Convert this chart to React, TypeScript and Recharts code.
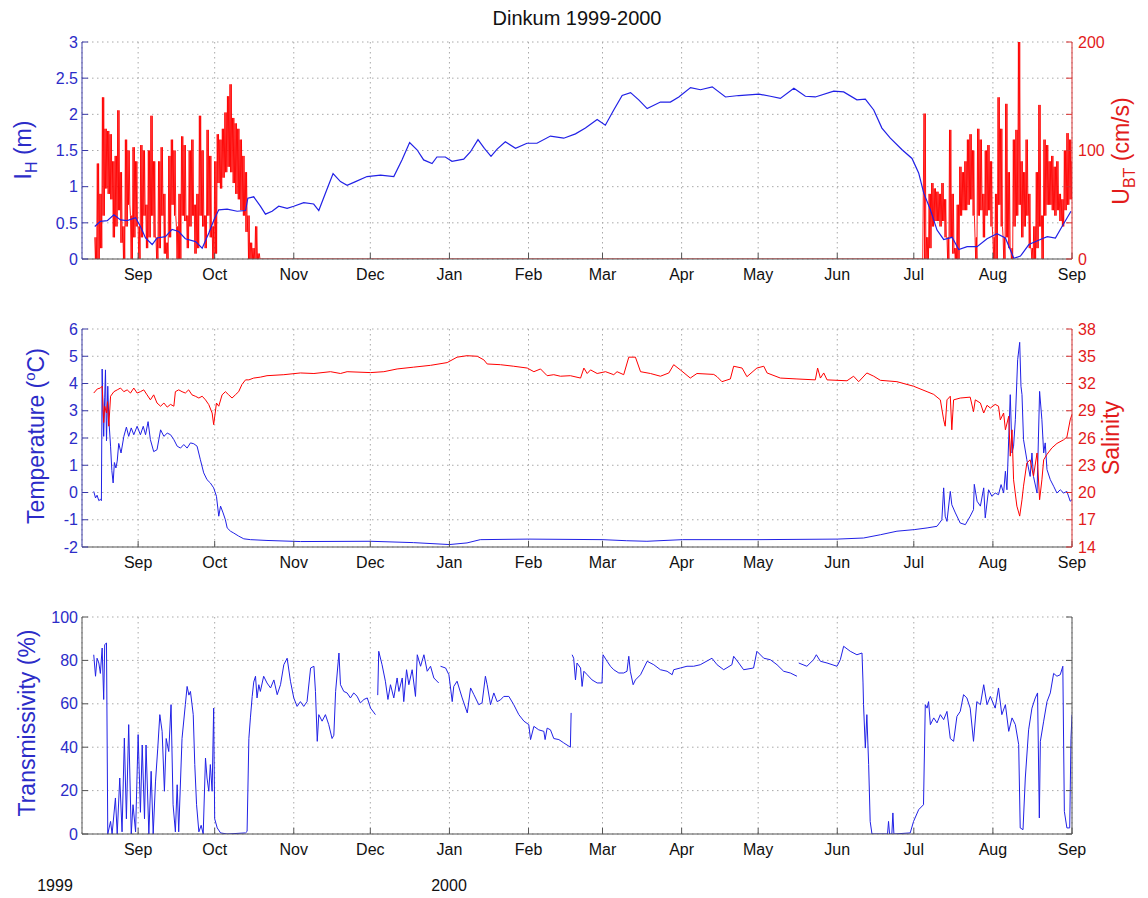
import React from 'react';
import { LineChart, Line, XAxis, YAxis, CartesianGrid } from 'recharts';

// x values are days since 1 Sep 1999
const monthTicks = [0, 30, 61, 91, 122, 153, 182, 213, 243, 274, 304, 335, 366];
const monthLabels = ['Sep', 'Oct', 'Nov', 'Dec', 'Jan', 'Feb', 'Mar', 'Apr', 'May', 'Jun', 'Jul', 'Aug', 'Sep'];
const dayDomain: [number, number] = [-22, 366];

const ihTicks = [0, 0.5, 1, 1.5, 2, 2.5, 3];
const ubtTicks = [0, 100 / 3, 200 / 3, 100, 400 / 3, 500 / 3, 200];
const ubtLabelled = [0, 100, 200];
const tempTicks = [-2, -1, 0, 1, 2, 3, 4, 5, 6];
const salTicks = [14, 17, 20, 23, 26, 29, 32, 35, 38];
const transTicks = [0, 20, 40, 60, 80, 100];

// ice draft I_H (m)
const iceDraft: [number, number][] = [
  [-17, 0.45], [-14.8, 0.52], [-12.1, 0.53], [-9.5, 0.61], [-6.9, 0.54], [-4.3, 0.53], [-1, 0.57], [0.9, 0.45],
  [2.9, 0.29], [5.5, 0.2], [7.4, 0.29], [10.7, 0.31], [13.3, 0.41], [15.9, 0.38], [18.5, 0.28], [22.5, 0.24],
  [25.1, 0.15], [27.7, 0.36], [29.7, 0.54], [31.6, 0.68], [34.9, 0.69], [38.8, 0.66], [42.1, 0.67], [43, 0.84],
  [45.3, 0.86], [47.9, 0.73], [49.9, 0.62], [52.5, 0.66], [55.1, 0.73], [58.4, 0.7], [61, 0.73], [64.9, 0.78],
  [68.8, 0.76], [70.8, 0.67], [73.4, 0.91], [76.4, 1.18], [79.3, 1.07], [81.9, 1.02], [85.2, 1.07], [89.7, 1.14],
  [95, 1.16], [100.2, 1.14], [103.4, 1.37], [106.4, 1.61], [109.3, 1.51], [111.9, 1.37], [115.2, 1.32], [117.1, 1.41],
  [120.4, 1.41], [123, 1.35], [127.6, 1.38], [130.2, 1.48], [133.2, 1.65], [135.7, 1.53], [138.3, 1.42], [140.7, 1.52],
  [143.9, 1.62], [147.9, 1.53], [152.4, 1.6], [156.3, 1.6], [161.6, 1.7], [166.8, 1.67], [171.4, 1.73], [175.3, 1.81],
  [179.9, 1.93], [183.1, 1.85], [186.4, 2.06], [189.7, 2.26], [193, 2.3], [196.2, 2.2], [199.5, 2.08], [204.7, 2.17],
  [208.6, 2.17], [211.9, 2.24], [216.5, 2.37], [220.4, 2.34], [225, 2.38], [230.2, 2.24], [235.4, 2.26], [243.3, 2.28],
  [247.8, 2.25], [251.7, 2.22], [257, 2.36], [261.5, 2.25], [265.4, 2.24], [272.6, 2.32], [276.5, 2.31], [281.7, 2.2],
  [285, 2.21], [288.3, 2.06], [291.5, 1.81], [294.8, 1.67], [299.4, 1.51], [303.3, 1.39], [305.9, 1.19], [307.9, 0.91],
  [310.5, 0.68], [313.1, 0.4], [315.7, 0.27], [319, 0.3], [321.6, 0.13], [324.9, 0.17], [328.8, 0.17], [332.7, 0.28],
  [336.6, 0.35], [339.9, 0.29], [343.2, 0.01], [345.8, 0.04], [349.1, 0.2], [353.6, 0.27], [356.3, 0.31], [359.5, 0.29],
  [362.1, 0.45], [365.6, 0.66],
];

// U_BT (cm/s): daily high / low of the tidal oscillation, autumn 1999 (from day -17) and summer 2000 (from day 308)
const ubtStartAutumn = -17;
const ubtHighAutumn = [20, 88, 60, 149, 120, 118, 115, 90, 95, 137, 80, 30, 110, 100, 40, 103, 90, 30, 105, 100, 50, 100, 132, 90,
  20, 90, 103, 60, 15, 95, 110, 100, 30, 60, 113, 105, 40, 100, 110, 50, 60, 132, 100, 40, 119, 95, 30, 90, 115, 110, 120,
  135, 150, 161, 130, 125, 120, 110, 95, 80, 40, 15, 10, 30, 5];
const ubtLowAutumn = [0, 0, 10, 40, 65, 60, 55, 20, 30, 45, 15, 0, 30, 50, 0, 20, 30, 0, 20, 40, 10, 20, 40, 20,
  0, 10, 40, 5, 0, 20, 50, 40, 0, 0, 40, 35, 10, 30, 40, 5, 10, 40, 30, 10, 40, 20, 0, 5, 70, 65, 75,
  80, 85, 80, 70, 60, 55, 45, 40, 25, 0, 0, 0, 0, 0];
const ubtStartSummer = 308;
const ubtHighSummer = [134, 20, 60, 70, 65, 62, 60, 70, 55, 20, 119, 60, 10, 50, 85, 80, 90, 110, 115, 100, 20, 120, 110, 60,
  100, 105, 90, 20, 60, 149, 120, 20, 143, 80, 10, 110, 119, 200, 90, 80, 110, 60, 10, 30, 80, 142, 40, 110, 105, 90, 95,
  85, 90, 60, 55, 100, 116, 110, 90];
const ubtLowSummer = [0, 0, 10, 30, 35, 35, 30, 35, 20, 0, 20, 5, 0, 0, 40, 45, 45, 50, 55, 40, 0, 40, 45, 20,
  40, 45, 30, 0, 0, 50, 30, 0, 20, 10, 0, 30, 40, 50, 20, 30, 40, 10, 0, 0, 10, 30, 0, 40, 50, 50, 45,
  40, 45, 35, 30, 45, 50, 55, 55];

const temperature: [number, number][] = [
  [-17.4, 0.04], [-16.7, -0.2], [-16.1, -0.1], [-15.4, -0.3], [-14.8, -0.25], [-14.4, -0.3], [-14.1, 4.53], [-13.8, 3.0],
  [-13.5, 2.06], [-13.1, 3.5], [-12.8, 4.5], [-12.4, 1.9], [-11.9, 3.9], [-11.5, 2.7], [-10.8, 1.7], [-10.3, 0.8],
  [-9.8, 0.35], [-9.3, 1.1], [-8.7, 0.9], [-8.2, 1.15], [-7.6, 1.8], [-6.7, 1.45], [-5.6, 2.06], [-4.6, 2.4],
  [-3.7, 2.06], [-2.7, 2.37], [-1.7, 2.12], [-0.4, 2.43], [0.9, 2.12], [2, 2.43], [2.9, 2.12], [3.9, 2.6],
  [4.8, 1.94], [6.1, 1.5], [7.4, 1.57], [8.8, 2.3], [10.1, 2.06], [11.4, 2.18], [12.7, 2.12], [14, 1.94],
  [15.3, 1.7], [16.6, 1.63], [17.9, 1.76], [19.2, 1.63], [20.5, 1.82], [21.8, 1.79], [23.1, 1.7], [24.4, 1.2],
  [25.7, 0.72], [27, 0.47], [28.3, 0.35], [29.6, 0.17], [30.7, -0.14], [31.6, -0.87], [32.3, -0.5], [33.3, -0.75],
  [34.2, -1.0], [34.9, -1.3], [36.2, -1.42], [37.5, -1.49], [39.4, -1.6], [41.4, -1.7], [44, -1.73], [50.5, -1.76],
  [63.6, -1.8], [91, -1.79], [108, -1.84], [122, -1.91], [128.9, -1.85], [134.1, -1.73], [153, -1.71], [182, -1.73],
  [191.5, -1.77], [199.4, -1.79], [213.4, -1.73], [243.3, -1.73], [274, -1.71], [284.3, -1.67], [290.9, -1.55], [297.4, -1.42],
  [304.4, -1.36], [309.2, -1.3], [313.1, -1.24], [315, -1.0], [315.7, 0.17], [316.3, -0.87], [317, -1.06], [318.3, 0.04],
  [318.9, -0.45], [320.3, -0.75], [322.2, -1.12], [324.2, -1.18], [326.1, -0.87], [327.4, -0.63], [327.7, 0.3], [328.8, -0.32],
  [330.1, -0.5], [331.4, 0.17], [332, -0.93], [333.3, 0.1], [334.6, -0.14], [335.9, -0.02], [337.2, -0.08], [338.2, 0.29],
  [339.2, -0.02], [339.9, 0.78], [340.5, 0.1], [341.8, 3.59], [342.5, 1.45], [343.1, 1.7], [343.8, 2.67], [344.7, 4.87],
  [345.5, 5.51], [346, 3.9], [346.4, 3.59], [347, 1.94], [348.3, 1.2], [349.6, 0.59], [350.3, 1.45], [350.9, 0.59],
  [352.3, -0.02], [353.3, 3.71], [354.2, 2.67], [354.9, 1.45], [355.5, 1.82], [356.2, 0.84], [357.5, 0.47], [358.8, 0.23],
  [360.1, -0.02], [361.4, 0.1], [362.7, -0.02], [364, 0.04], [365.3, -0.32], [366, -0.26],
];

const salinity: [number, number][] = [
  [-17.4, 30.95], [-16, 31.4], [-14.8, 31.5], [-14.1, 31.7], [-13.5, 27.7], [-13.1, 29.5], [-12.4, 28.75], [-12, 30.0],
  [-11.5, 27.3], [-10.8, 30.6], [-9.5, 31.1], [-8.2, 31.3], [-6.9, 31.5], [-5.6, 31.1], [-4.3, 31.3], [-3, 30.95],
  [-1.7, 31.5], [-0.4, 30.95], [0.9, 31.1], [2.2, 31.3], [3.5, 30.75], [4.8, 30.2], [6.1, 30.75], [7.4, 29.85],
  [8.8, 29.5], [10.1, 29.85], [11.4, 29.4], [12.7, 29.7], [14, 29.5], [14.6, 31.1], [15.9, 31.3], [17.2, 31.1],
  [18.5, 30.95], [19.8, 31.3], [21.1, 30.75], [22.4, 30.6], [23.8, 30.4], [25.1, 30.6], [26.4, 30.2], [27.7, 29.67],
  [29, 28.75], [29.6, 27.47], [30.7, 29.85], [31.6, 29.5], [32.9, 30.75], [34.2, 31.1], [35.5, 30.75], [36.8, 30.4],
  [38.1, 30.75], [39.4, 31.1], [40.7, 31.9], [42.1, 32.4], [43.4, 32.4], [45.3, 32.6], [47.9, 32.7], [50.5, 32.86],
  [57.1, 32.97], [63.6, 33.16], [68.9, 33.1], [75.4, 33.3], [79.3, 33.1], [81.9, 33.3], [91.1, 33.2], [96.3, 33.3],
  [101.5, 33.6], [108, 33.8], [114.6, 34.0], [121.1, 34.3], [125, 34.9], [128.9, 35.06], [132.9, 35.0], [135.5, 34.6],
  [136.8, 34.15], [142, 34.07], [147.2, 33.9], [152.5, 33.7], [155.1, 33.3], [157.7, 33.6], [160.3, 32.86], [162.9, 32.97],
  [165.5, 32.8], [169.4, 32.86], [173.4, 32.6], [174.7, 33.7], [176, 33.1], [177.3, 33.5], [179.9, 33.1], [183.2, 33.3],
  [186.4, 32.97], [187.7, 33.3], [190.3, 32.97], [192.3, 34.9], [194.9, 34.9], [196.9, 33.3], [200.8, 33.1], [204.7, 32.8],
  [208, 33.16], [209.9, 34.07], [212.5, 33.5], [216.4, 32.6], [219, 33.1], [225.6, 33.0], [226.9, 32.75], [228.8, 32.2],
  [232.1, 32.5], [233.4, 33.9], [236.7, 33.7], [238.6, 32.75], [242.5, 33.7], [245.2, 33.9], [246.5, 33.16], [251.7, 32.6],
  [258.2, 32.5], [265.4, 32.4], [266.3, 33.7], [267.4, 32.6], [268.7, 33.16], [270, 32.4], [277.8, 32.3], [280.4, 32.8],
  [282.4, 32.2], [285.6, 33.16], [288.3, 32.8], [290.9, 32.35], [297.4, 32.2], [303.9, 31.7], [309.2, 31.1], [311.8, 30.8],
  [314.4, 30.2], [315.7, 28.0], [316.3, 27.3], [317, 30.2], [318.3, 30.6], [318.9, 26.9], [319.6, 30.2], [322.2, 30.4],
  [326.1, 30.5], [327.4, 28.9], [328.1, 30.2], [330.1, 29.85], [331.4, 28.75], [332.7, 29.6], [334, 29.3], [335.9, 29.7],
  [337.2, 29.5], [337.9, 28.0], [339.2, 28.75], [339.9, 26.9], [341.2, 28.4], [341.8, 24.0], [342.5, 26.9], [343.1, 21.4],
  [344.4, 18.5], [345.5, 17.4], [346.4, 19.2], [347, 20.7], [348.3, 23.25], [349.6, 23.6], [350.9, 21.8], [352.3, 24.35],
  [353.3, 19.2], [354.2, 21.4], [354.9, 23.6], [356.2, 24.2], [358.1, 24.9], [360.1, 25.4], [362.7, 25.8], [364, 26.1],
  [365.3, 28.0], [366, 28.6],
];

// null = gap in the record
const transmissivity: [number, number | null][] = [
  [-17.4, 82.6], [-16.7, 72.7], [-16.1, 81], [-15.4, 78.8], [-14.8, 74], [-14.1, 85.7], [-13.5, 62], [-13.1, 87.3],
  [-12.4, 88], [-11.9, 0], [-10.8, 5.8], [-10.2, 0], [-8.9, 16.6], [-8.2, 0], [-7.2, 25.8], [-6.3, 1],
  [-5.4, 44.2], [-4.6, 7], [-3.7, 50.4], [-2.7, 0], [-2, 13.5], [-1, 1], [0, 45.8], [0.9, 10],
  [1.6, 41], [2.5, 7], [3.1, 41], [4.2, 0], [5.1, 28.9], [5.9, 0], [6.8, 24], [7.7, 39.6],
  [8.5, 55], [9.4, 47.3], [10.3, 19.7], [11, 44], [12, 38], [12.9, 59.6], [13.7, 13.5], [14.6, 1],
  [15.3, 22.7], [15.9, 1], [17.2, 44], [18.5, 59.6], [19.2, 68], [19.9, 64], [20.5, 65.7], [21.6, 55],
  [22.2, 32], [22.9, 13.5], [23.8, 1], [24.7, 4], [25.5, 0], [26.4, 35], [27, 25.8], [27.7, 19.7],
  [28.3, 32], [29, 19.7], [29.6, 58], [30, 7], [31, 2.8], [32.3, 0.5], [34.9, 0], [42.1, 0.5],
  [42.7, 1.2], [43.4, 44], [44, 53.5], [44.7, 63.4], [45.3, 70], [46, 72.7], [46.6, 62.7], [47.3, 68.8],
  [47.9, 65.7], [49.2, 72.7], [50.5, 69.6], [51.9, 67.3], [53.2, 71], [54.5, 64.2], [55.8, 68.8], [57.1, 78],
  [58.4, 81], [59.7, 70.4], [61, 62.7], [62.3, 58.8], [63.6, 61], [64.9, 58.8], [66.2, 61], [67.6, 76.5],
  [68.9, 77.3], [69.5, 65.7], [70.2, 42.7], [70.8, 55], [72.1, 52], [73.4, 55], [74.7, 50.4], [76, 44],
  [76.7, 45.5], [77.4, 65.7], [78.7, 83.4], [79.3, 68.8], [80.6, 65.7], [81.9, 65], [83.2, 62.7], [84.5, 65],
  [85.8, 63.5], [87.1, 60.4], [88.5, 62], [89.8, 62.7], [91.1, 58], [93, 55], [93.5, null], [93.9, 64],
  [94.3, 84.2], [95.6, 78], [96.9, 70.4], [97.9, 62], [98.9, 68.8], [100.2, 62.7], [101.5, 71.9], [102.2, 65.7],
  [103.5, 71.9], [104.1, 61], [105.2, 75.7], [106.1, 68.8], [107.4, 75.7], [108.7, 63.4], [109.4, 82.6], [110.7, 77.3],
  [112, 82.6], [113.3, 75], [114.6, 77.3], [115.9, 71.9], [117.8, 69.6], [118.1, null], [118.5, 77.3], [120.5, 76.5],
  [121.8, 73.4], [123.1, 61], [123.7, 68], [125, 70.4], [127, 62.7], [129, 55.8], [130.3, 67.3], [131.6, 64.2],
  [133.5, 59.6], [134.8, 60.4], [136.1, 72.7], [136.8, 68.8], [138.1, 59.6], [139.4, 65], [140.7, 61], [142, 61.8],
  [143.3, 63.4], [145.3, 63.4], [147.2, 59.6], [149.2, 55], [151.2, 52], [153.1, 50.4], [153.8, 43.5], [155.1, 49.6],
  [157, 48], [159, 47.3], [159.5, 43.5], [160.3, 48.8], [161.6, 48], [162.9, 44], [164.9, 43.5], [166.8, 42],
  [169.4, 40], [169.7, 55.8], [169.9, null], [170.1, 82.6], [170.7, 81], [171.4, 71], [172, 78.8], [173.4, 76.5],
  [174, 68], [174.7, 75], [176, 73.4], [177.9, 71], [179.9, 69.6], [181.8, 69.6], [182.2, 82.6], [183.8, 79.6],
  [185.1, 77.3], [186.4, 75.7], [188.4, 74.2], [190.3, 74.2], [191.6, 75], [192.3, 81.9], [192.9, 75], [194, 68.8],
  [194.9, 71], [196.9, 73.4], [199.5, 79.6], [202.1, 78], [204.7, 75.7], [207.3, 75], [209.3, 73.4], [209.9, 75.7],
  [212.5, 76.5], [215.1, 77.3], [217.7, 77.3], [220.3, 78], [224.9, 81], [226.9, 78], [229.5, 75.7], [232.7, 78],
  [233.4, 81.9], [235.4, 78.8], [237.3, 75.7], [241.2, 76.5], [242.5, 84.2], [245.2, 81], [247.8, 80.3], [250.4, 78],
  [253, 75], [255.6, 74.2], [258.2, 72.7], [258.5, null], [258.9, 78.8], [262.1, 77.3], [264.7, 80.3], [265.8, 82.6],
  [267.4, 79.6], [270, 78.8], [273.9, 77.3], [275.2, 80.3], [276.5, 86.5], [279.1, 84.2], [281.7, 82.6], [283.7, 83.4],
  [284.1, 69.6], [284.3, 59.6], [285, 39.6], [285.6, 55], [286.3, 32], [286.9, 5.8], [287.6, 0], [293.7, 0],
  [294.1, 5.8], [294.5, 0], [295.4, 0], [295.8, 9.7], [296.2, 0], [302.6, 0.5], [303.9, 5.8], [305.9, 11.2],
  [307.8, 13.5], [308.5, 59.6], [309.2, 58], [309.8, 61], [310.5, 50.4], [311.8, 53.5], [313.1, 51.2], [314.4, 55],
  [315.7, 52.7], [317, 56.5], [318.3, 44], [319.6, 42.7], [320.9, 54.2], [322.2, 56.5], [323.5, 64.2], [324.8, 62.7],
  [326.1, 58], [327.4, 42.7], [328.7, 61], [330.1, 59.6], [331.4, 68.8], [332.7, 59.6], [334, 63.4], [335.9, 58],
  [337.2, 67.3], [338.5, 55], [339.9, 59.6], [341.2, 47.3], [342.5, 53.5], [343.8, 50.4], [345.1, 41.2], [345.7, 2.8],
  [346.8, 2], [347.7, 25.8], [349, 48], [350.3, 58], [351.6, 62.7], [352.5, 65], [353.2, 7.4], [353.6, 42.7],
  [354.9, 52], [356.2, 61], [357.5, 65], [358.8, 74], [360.1, 72.7], [361.4, 73.4], [362.4, 77.3], [363, 10.4],
  [364, 2.8], [365.1, 2.8], [365.6, 44], [366, 55],
];

const W = 1148;
const FONT = 'Arial, "Liberation Sans", Helvetica, sans-serif';
const BLUE = '#2121e6';
const RED = '#ff0000';
const BLUE_TXT = '#2c2cc8';
const RED_TXT = '#e21b1b';
const BLUE_AXIS = '#3a3aa8';
const RED_AXIS = '#d83030';
const FRAME = '#555555';
const GRID = '#a9a9a9';

const toPoints = (rows: [number, number | null][]) => rows.map(([x, y]) => ({ x, y }));

// two tidal cycles a day: the day's high and low, alternating every quarter day
const zigzag = (start: number, hi: number[], lo: number[]) =>
  hi.flatMap((h, i) => [
    { x: start + i, y: h },
    { x: start + i + 0.25, y: lo[i] },
    { x: start + i + 0.5, y: h },
    { x: start + i + 0.75, y: lo[i] },
  ]);

const ubtData = [
  ...zigzag(ubtStartAutumn, ubtHighAutumn, ubtLowAutumn),
  { x: 48, y: 0 },
  { x: 307.5, y: 0 },
  ...zigzag(ubtStartSummer, ubtHighSummer, ubtLowSummer),
];

const monthFmt = (v: number) => monthLabels[monthTicks.indexOf(v)] ?? '';
const blank = () => '';

function timeAxes() {
  return [
    <XAxis key="b" type="number" dataKey="x" domain={dayDomain} ticks={monthTicks} allowDataOverflow interval={0}
      height={30} tickSize={-6} tickMargin={16} tickFormatter={monthFmt}
      stroke={FRAME} tick={{ fill: '#111', fontSize: 16 }} />,
    <XAxis key="t" xAxisId="top" orientation="top" type="number" dataKey="x" domain={dayDomain} ticks={monthTicks}
      allowDataOverflow interval={0} height={0} tickSize={-6} tickFormatter={blank} stroke={FRAME} />,
  ];
}

function Panel({ top, children }: { top: number; children: React.ReactNode }) {
  return <div style={{ position: 'absolute', left: 0, top, width: W }}>{children}</div>;
}

const lineProps = { dataKey: 'y', dot: false, isAnimationActive: false, strokeWidth: 1 } as const;

export default function App() {
  return (
    <div style={{ position: 'absolute', left: 0, top: 0, width: W, height: 898, background: '#fff', fontFamily: FONT }}>
      <Panel top={32}>
        <LineChart width={W} height={257} margin={{ top: 10, right: 20, bottom: 0, left: 20 }}>
          <CartesianGrid stroke={GRID} strokeDasharray="1.5 3.5" />
          {timeAxes()}
          <YAxis type="number" domain={[0, 3]} ticks={ihTicks} allowDataOverflow interval={0} width={62}
            tickSize={-6} tickMargin={10} stroke={BLUE_AXIS} tick={{ fill: BLUE_TXT, fontSize: 16 }} />
          <YAxis yAxisId="r" orientation="right" type="number" domain={[0, 200]} ticks={ubtTicks} allowDataOverflow
            interval={0} width={56} tickSize={-6} tickMargin={12}
            tickFormatter={(v: number) => (ubtLabelled.includes(Math.round(v * 1000) / 1000) ? String(v) : '')}
            stroke={RED_AXIS} tick={{ fill: RED_TXT, fontSize: 16 }} />
          <Line {...lineProps} data={ubtData} yAxisId="r" stroke={RED} strokeWidth={0.9} />
          <Line {...lineProps} data={toPoints(iceDraft)} stroke={BLUE} strokeWidth={1.2} />
        </LineChart>
      </Panel>

      <Panel top={319}>
        <LineChart width={W} height={258} margin={{ top: 10, right: 20, bottom: 0, left: 20 }}>
          <CartesianGrid stroke={GRID} strokeDasharray="1.5 3.5" />
          {timeAxes()}
          <YAxis type="number" domain={[-2, 6]} ticks={tempTicks} allowDataOverflow interval={0} width={62}
            tickSize={-6} tickMargin={10} stroke={BLUE_AXIS} tick={{ fill: BLUE_TXT, fontSize: 16 }} />
          <YAxis yAxisId="r" orientation="right" type="number" domain={[14, 38]} ticks={salTicks} allowDataOverflow
            interval={0} width={56} tickSize={-6} tickMargin={12} stroke={RED_AXIS} tick={{ fill: RED_TXT, fontSize: 16 }} />
          <Line {...lineProps} data={toPoints(temperature)} stroke={BLUE} />
          <Line {...lineProps} data={toPoints(salinity)} yAxisId="r" stroke={RED} />
        </LineChart>
      </Panel>

      <Panel top={607}>
        <LineChart width={W} height={257} margin={{ top: 10, right: 20, bottom: 0, left: 20 }}>
          <CartesianGrid stroke={GRID} strokeDasharray="1.5 3.5" />
          {timeAxes()}
          <YAxis type="number" domain={[0, 100]} ticks={transTicks} allowDataOverflow interval={0} width={62}
            tickSize={-6} tickMargin={10} stroke={FRAME} tick={{ fill: BLUE_TXT, fontSize: 16 }} />
          <YAxis yAxisId="r" orientation="right" type="number" domain={[0, 100]} ticks={transTicks} allowDataOverflow
            interval={0} width={56} tickSize={-6} tickFormatter={blank} stroke={FRAME} />
          <Line {...lineProps} data={toPoints(transmissivity)} stroke={BLUE} />
        </LineChart>
      </Panel>

      <svg width={W} height={898} style={{ position: 'absolute', left: 0, top: 0, pointerEvents: 'none' }}
        fontFamily={FONT}>
        <text x={577} y={25} textAnchor="middle" fontSize={20} fill="#111">Dinkum 1999-2000</text>

        <text transform="translate(31,150) rotate(-90)" textAnchor="middle" fontSize={23} fill={BLUE_TXT}>
          I<tspan dy={6} fontSize={16}>H</tspan><tspan dy={-6}> (m)</tspan>
        </text>
        <text transform="translate(1129,151) rotate(-90)" textAnchor="middle" fontSize={23} fill={RED_TXT}>
          U<tspan dy={6} fontSize={16}>BT</tspan><tspan dy={-6}> (cm/s)</tspan>
        </text>

        <text transform="translate(44,436) rotate(-90)" textAnchor="middle" fontSize={23} fill={BLUE_TXT}>
          Temperature (<tspan dy={-9} fontSize={15}>o</tspan><tspan dy={9}>C)</tspan>
        </text>
        <text transform="translate(1119,438) rotate(-90)" textAnchor="middle" fontSize={23} fill={RED_TXT}>
          Salinity
        </text>

        <text transform="translate(35,723) rotate(-90)" textAnchor="middle" fontSize={23} fill={BLUE_TXT}>
          Transmissivity (%)
        </text>

        <text x={55} y={891} textAnchor="middle" fontSize={16} fill="#111">1999</text>
        <text x={449} y={891} textAnchor="middle" fontSize={16} fill="#111">2000</text>
      </svg>
    </div>
  );
}
